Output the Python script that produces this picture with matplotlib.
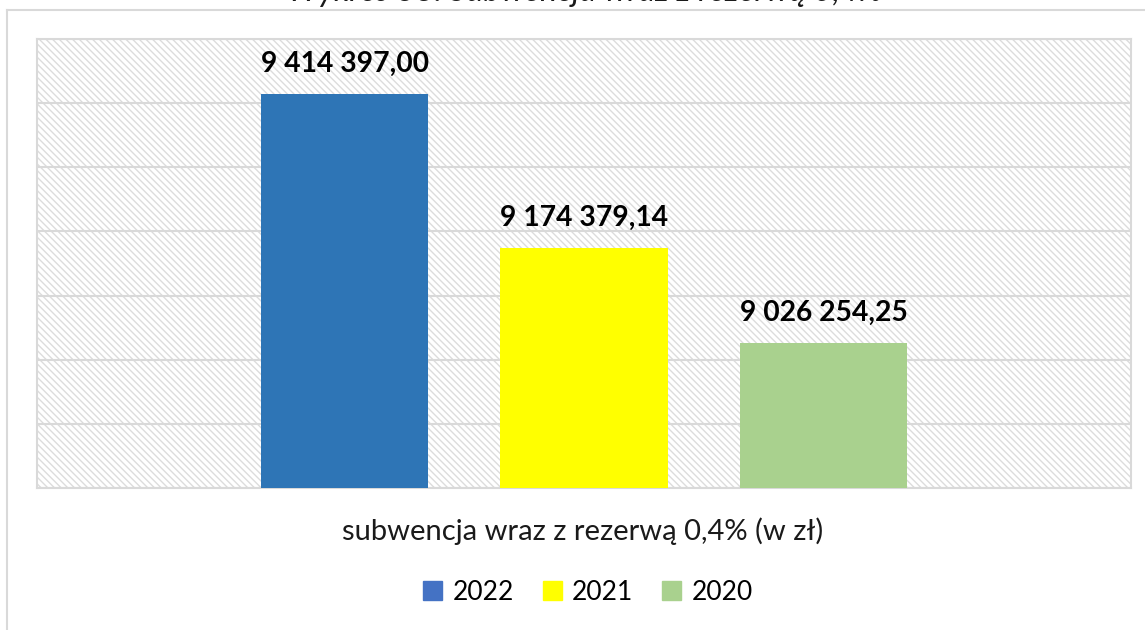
"""
Wykres: subwencja wraz z rezerwą 0,4% (w zł), lata 2022-2020.

Odtworzenie wykresu słupkowego w stylu Excela: kreskowane tło obszaru
wykresu, etykiety wartości nad słupkami, legenda pod osią.
"""

import matplotlib
matplotlib.use("Agg")

import matplotlib.pyplot as plt
from matplotlib.patches import Rectangle
from matplotlib.lines import Line2D

# ── Dane ────────────────────────────────────────────────────────────
years = ["2022", "2021", "2020"]
values = [9414397.00, 9174379.14, 9026254.25]
value_labels = ["9 414 397,00", "9 174 379,14", "9 026 254,25"]
bar_colors = ["#2E75B6", "#FFFF00", "#A9D18E"]
legend_colors = ["#4472C4", "#FFFF00", "#A9D18E"]

title = "Wykres 38. Subwencja wraz z rezerwą 0,4%"
axis_label = "subwencja wraz z rezerwą 0,4% (w zł)"

y_min, y_max, y_step = 8800000, 9500000, 100000

GRID = "#D9D9D9"
FONT = ["Lato", "DejaVu Sans"]

plt.rcParams["font.family"] = FONT
plt.rcParams["hatch.linewidth"] = 1.0

W, H = 1145, 630


def main() -> None:
    fig = plt.figure(figsize=(W / 100, H / 100), dpi=100)

    # ── Ramka całego wykresu (przycięta z prawej i z dołu) ──────────
    fig.add_artist(Line2D([7 / W, 7 / W], [0, 1 - 10 / H],
                          color=GRID, lw=1.5, transform=fig.transFigure))
    fig.add_artist(Line2D([7 / W, 1], [1 - 10 / H, 1 - 10 / H],
                          color=GRID, lw=1.5, transform=fig.transFigure))

    # tytuł wystaje ponad górną krawędź obrazka (tak jak w oryginale)
    fig.text(585 / W, 1 - 1 / H, title, ha="center", va="baseline",
             fontsize=23.5, style="italic", color="#1a1a1a")

    ax = fig.add_axes([37 / W, 1 - 488 / H, 1094 / W, 449 / H])

    # kreskowane tło
    ax.add_patch(Rectangle((0, 0), 1, 1, transform=ax.transAxes,
                           facecolor="white", edgecolor="#DCDCDC", lw=0,
                           hatch="\\\\\\\\\\", zorder=0))

    x = range(len(years))
    bars = ax.bar(x, values, width=0.7, color=bar_colors, zorder=3)

    for bar, lab in zip(bars, value_labels):
        ax.annotate(lab, (bar.get_x() + bar.get_width() / 2, bar.get_height()),
                    xytext=(0, 30), textcoords="offset pixels",
                    ha="center", va="center", fontsize=20.3,
                    fontweight="bold", color="black", zorder=4)

    ax.set_xlim(-1.284, 3.284)
    ax.set_ylim(y_min, y_max)
    ax.set_yticks(range(y_min, y_max + 1, y_step))
    ax.set_xticks([])
    ax.tick_params(axis="y", length=0, labelleft=False)
    ax.grid(axis="y", color=GRID, lw=1.5, zorder=1)
    for sp in ax.spines.values():
        sp.set_color(GRID)
        sp.set_linewidth(1.5)

    # ── Tytuł osi i legenda ─────────────────────────────────────────
    fig.text(583 / W, 1 - 540 / H, axis_label, ha="center", va="baseline",
             fontsize=21, color="#1a1a1a")

    handles = [Rectangle((0, 0), 1, 1, color=c) for c in legend_colors]
    fig.legend(handles, years, loc="center", bbox_to_anchor=(588 / W, 1 - 592 / H),
               ncol=3, frameon=False, fontsize=19, handlelength=0.72,
               handleheight=0.72, handletextpad=0.4, columnspacing=1.1,
               borderpad=0)

    fig.savefig("out.png", dpi=100)
    plt.close(fig)


if __name__ == "__main__":
    main()
